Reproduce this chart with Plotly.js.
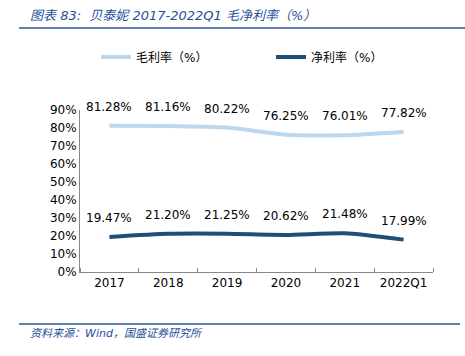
<!DOCTYPE html>
<html><head><meta charset="utf-8">
<script src="https://cdn.plot.ly/plotly-3.0.1.min.js"></script>
<style>body{margin:0;background:#fff}#c{width:465px;height:356px}</style>
</head><body><div id="c"></div>
<script>
const categories = ['2017','2018','2019','2020','2021','2022Q1'];
const grossMargin = [81.28, 81.16, 80.22, 76.25, 76.01, 77.82];
const netMargin = [19.47, 21.20, 21.25, 20.62, 21.48, 17.99];
const yTickVals = [0,10,20,30,40,50,60,70,80,90];
const yTickText = yTickVals.map(v => v + '%');
const seriesNames = ['毛利率（%）', '净利率（%）'];
const titleText = '图表 83:  贝泰妮 2017-2022Q1 毛净利率（%）';
const sourceText = '资料来源：Wind，国盛证券研究所';

const FONT = 'DejaVu Sans, Noto Sans CJK SC, sans-serif';
const BLUE = '#1F4E9A';
const LIGHT = '#BDD7EE';
const DARK = '#1F4E79';
const xIdx = categories.map((_, i) => i);
const xBounds = [-0.5].concat(xIdx.map(i => i + 0.5));

const traces = [
  {x: xIdx, y: grossMargin, name: seriesNames[0], mode: 'lines', type: 'scatter',
   line: {color: LIGHT, width: 4, shape: 'spline', smoothing: 0.6}, hoverinfo: 'none'},
  {x: xIdx, y: netMargin, name: seriesNames[1], mode: 'lines', type: 'scatter',
   line: {color: DARK, width: 4, shape: 'spline', smoothing: 0.6}, hoverinfo: 'none'}
];

const annotations = [];
[grossMargin, netMargin].forEach(arr => {
  arr.forEach((v, i) => {
    annotations.push({x: xIdx[i], y: v, xref: 'x', yref: 'y', text: v.toFixed(2) + '%',
      showarrow: false, yshift: 19, font: {family: FONT, size: 12, color: '#000'}});
  });
});
annotations.push({xref: 'paper', yref: 'paper', x: (28-80)/353, y: (272-15)/162, xanchor: 'left', yanchor: 'middle',
  text: titleText, showarrow: false, font: {family: FONT, size: 13, color: BLUE, style: 'italic'}});
annotations.push({xref: 'paper', yref: 'paper', x: (28-80)/353, y: (272-333)/162, xanchor: 'left', yanchor: 'middle',
  text: sourceText, showarrow: false, font: {family: FONT, size: 11, color: BLUE, style: 'italic'}});

const shapes = [
  {type: 'line', xref: 'paper', yref: 'paper', x0: (19-80)/353, x1: (465-80)/353, y0: (272-28)/162, y1: (272-28)/162,
   line: {color: '#2F5597', width: 1.5}},
  {type: 'line', xref: 'paper', yref: 'paper', x0: (19-80)/353, x1: (460-80)/353, y0: (272-324)/162, y1: (272-324)/162,
   line: {color: '#2F5597', width: 1.5}}
];

const layout = {
  width: 465, height: 356,
  margin: {l: 80, r: 32, t: 110, b: 84},
  paper_bgcolor: '#fff', plot_bgcolor: '#fff',
  font: {family: FONT, size: 12, color: '#000'},
  showlegend: true,
  legend: {orientation: 'h', xref: 'container', x: 96/465, xanchor: 'left', yref: 'container', y: 1 - 57/356, yanchor: 'middle',
    entrywidth: 130, entrywidthmode: 'pixels', font: {family: FONT, size: 12, color: '#000'}, bgcolor: 'rgba(0,0,0,0)'},
  xaxis: {range: [-0.5, 5.5], tickvals: xIdx, ticktext: categories, showgrid: false, showline: true,
    linecolor: '#888', linewidth: 1, ticks: '', zeroline: false,
    minor: {tickvals: xBounds, ticks: 'inside', ticklen: 4, tickcolor: '#888', showgrid: false},
    tickfont: {family: FONT, size: 12, color: '#000'}, fixedrange: true},
  yaxis: {range: [0, 90], tickvals: yTickVals, ticktext: yTickText, showgrid: false, showline: true,
    linecolor: '#888', linewidth: 1, zeroline: false, ticks: '',
    tickfont: {family: FONT, size: 12, color: '#000'}, fixedrange: true},
  annotations: annotations,
  shapes: shapes
};

Plotly.newPlot('c', traces, layout, {displayModeBar: false, staticPlot: true});
</script>
</body></html>
